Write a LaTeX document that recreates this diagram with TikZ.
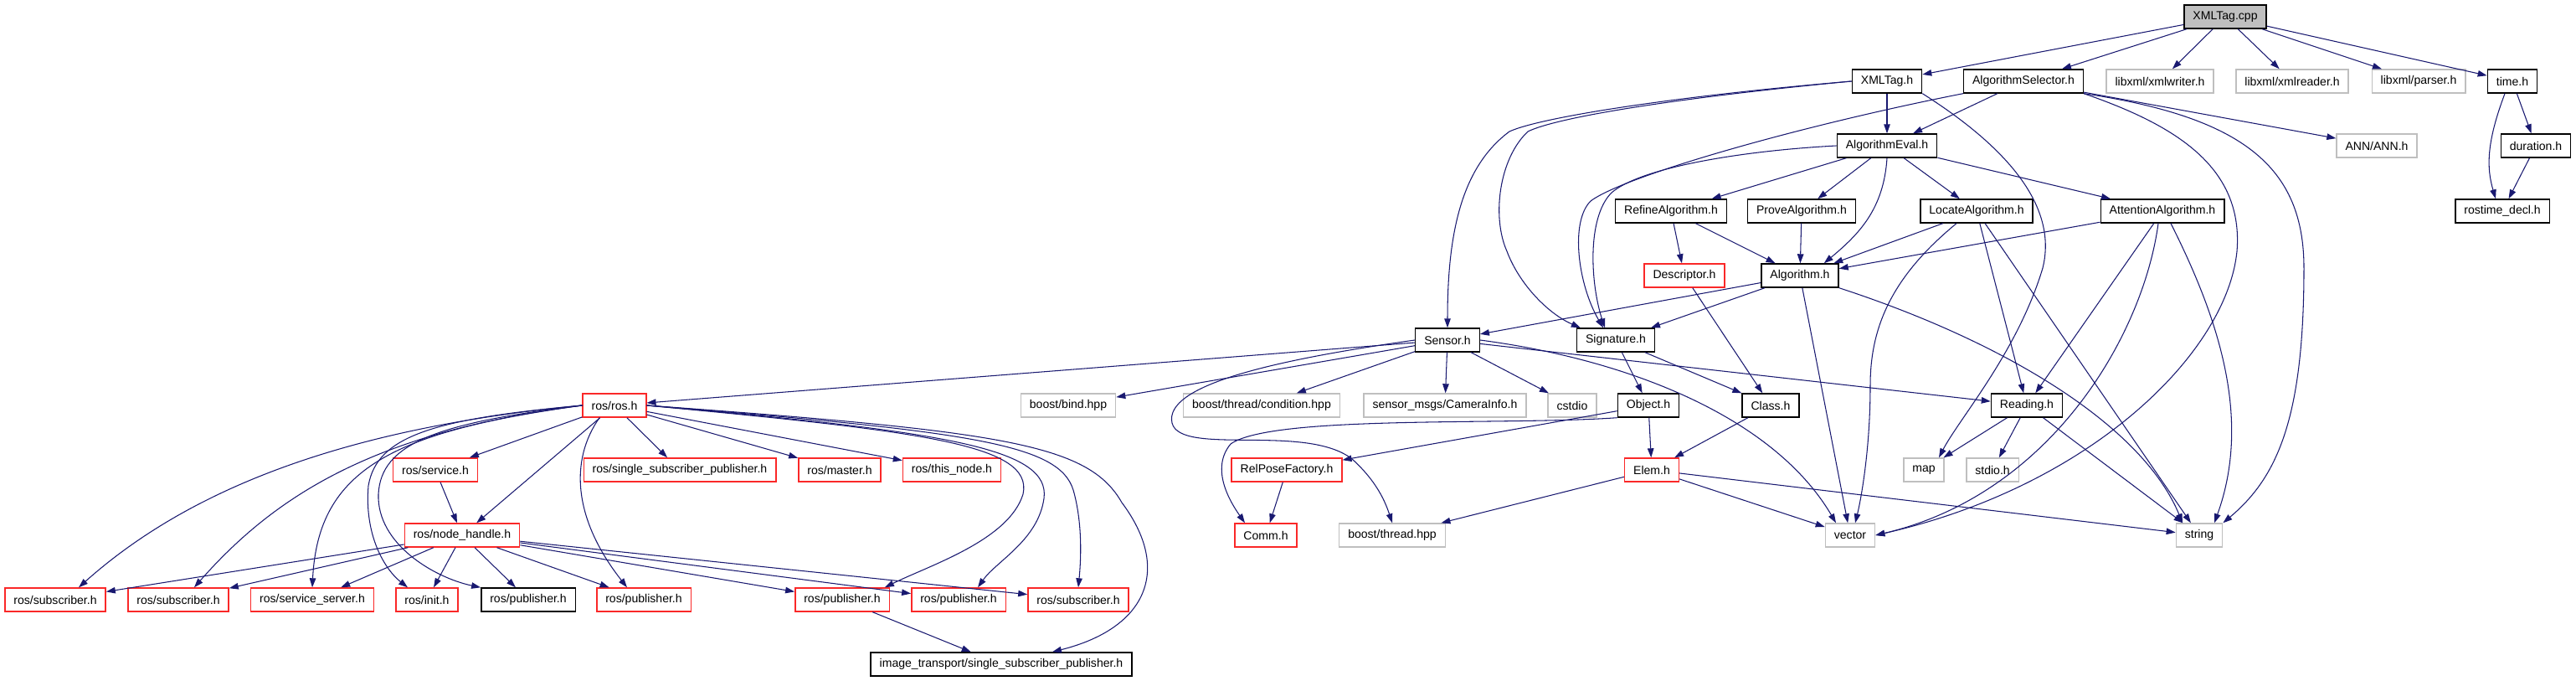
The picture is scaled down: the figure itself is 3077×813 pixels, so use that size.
\documentclass[tikz,border=0pt]{standalone}
\usepackage{fontspec}
\newfontfamily\graphfont{Liberation Sans}
\usepackage{tikz}
\usetikzlibrary{arrows.meta}
\definecolor{edgeblue}{RGB}{25,25,112}
\definecolor{cutred}{RGB}{250,40,40}
\definecolor{sysgray}{RGB}{191,191,191}

\begin{document}
\begin{tikzpicture}[x=0.02cm, y=-0.02cm,
    incnode/.style={draw=black, line width=0.8pt, fill=white, font=\graphfont\fontsize{8pt}{9.6pt}\selectfont,
      minimum height=0.56cm, inner xsep=0.21cm, inner ysep=0pt},
    rootnode/.style={incnode, fill=sysgray},
    sysnode/.style={incnode, draw=sysgray},
    cutnode/.style={incnode, draw=cutred},
    incedge/.style={draw=edgeblue, line width=0.6pt, -{Triangle[length=0.22cm, width=0.15cm]}}]
    \useasboundingbox (0,0) rectangle (3077,813);

    % The file and its direct includes
    \node[rootnode] (root) at (2658,20) {XMLTag.cpp};
    \node[incnode] (xmltagh) at (2254,97) {XMLTag.h};
    \node[incnode] (algsel) at (2417,97) {AlgorithmSelector.h};
    \node[sysnode] (xmlwriter) at (2580,97) {libxml/xmlwriter.h};
    \node[sysnode] (xmlreader) at (2738,97) {libxml/xmlreader.h};
    \node[sysnode] (xmlparser) at (2889,97) {libxml/parser.h};
    \node[incnode] (timeh) at (3001,97) {time.h};

    % Algorithm headers
    \node[incnode] (algeval) at (2254,174) {AlgorithmEval.h};
    \node[sysnode] (annh) at (2839,174) {ANN/ANN.h};
    \node[incnode] (durationh) at (3029,174) {duration.h};
    \node[incnode] (refine) at (1996,252) {RefineAlgorithm.h};
    \node[incnode] (prove) at (2152,252) {ProveAlgorithm.h};
    \node[incnode] (locate) at (2361,252) {LocateAlgorithm.h};
    \node[incnode] (attention) at (2583,252) {AttentionAlgorithm.h};
    \node[incnode] (rostimedecl) at (2989,252) {rostime\_decl.h};
    \node[cutnode] (descriptor) at (2012,329) {Descriptor.h};
    \node[incnode] (algorithm) at (2150,329) {Algorithm.h};
    \node[incnode] (sensor) at (1729,406) {Sensor.h};
    \node[incnode] (signature) at (1930,406) {Signature.h};

    % Middle rows
    \node[cutnode] (rosros) at (734,484) {ros/ros.h};
    \node[sysnode] (bind) at (1276,484) {boost/bind.hpp};
    \node[sysnode] (condition) at (1507,484) {boost/thread/condition.hpp};
    \node[sysnode] (camerainfo) at (1726,484) {sensor\_msgs/CameraInfo.h};
    \node[sysnode] (cstdio) at (1878,484) {cstdio};
    \node[incnode] (object) at (1969,484) {Object.h};
    \node[incnode] (classh) at (2115,484) {Class.h};
    \node[incnode] (reading) at (2421,484) {Reading.h};
    \node[cutnode] (service) at (520,561) {ros/service.h};
    \node[cutnode] (singlesub) at (812,561) {ros/single\_subscriber\_publisher.h};
    \node[cutnode] (master) at (1003,561) {ros/master.h};
    \node[cutnode] (thisnode) at (1137,561) {ros/this\_node.h};
    \node[cutnode] (relpose) at (1537,561) {RelPoseFactory.h};
    \node[cutnode] (elem) at (1973,561) {Elem.h};
    \node[sysnode] (map) at (2298,561) {map};
    \node[sysnode] (stdioh) at (2380,561) {stdio.h};
    \node[cutnode] (nodehandle) at (552,639) {ros/node\_handle.h};
    \node[cutnode] (comm) at (1512,639) {Comm.h};
    \node[sysnode] (bthread) at (1663,639) {boost/thread.hpp};
    \node[sysnode] (vector) at (2210,639) {vector};
    \node[sysnode] (string) at (2627,639) {string};

    % Bottom rows (ros)
    \node[cutnode] (sub1) at (66,716) {ros/subscriber.h};
    \node[cutnode] (sub2) at (213,716) {ros/subscriber.h};
    \node[cutnode] (srvserver) at (373,716) {ros/service\_server.h};
    \node[cutnode] (init) at (510,716) {ros/init.h};
    \node[incnode] (pub0) at (631,716) {ros/publisher.h};
    \node[cutnode] (pub1) at (769,716) {ros/publisher.h};
    \node[cutnode] (pub2) at (1006,716) {ros/publisher.h};
    \node[cutnode] (pub3) at (1145,716) {ros/publisher.h};
    \node[cutnode] (sub3) at (1288,716) {ros/subscriber.h};
    \node[incnode] (imgtransport) at (1196,793) {image\_transport/single\_subscriber\_publisher.h};

    % XMLTag.cpp
    \draw[incedge] (root) -- (xmltagh);
    \draw[incedge] (root) -- (algsel);
    \draw[incedge] (root) -- (xmlwriter);
    \draw[incedge] (root) -- (xmlreader);
    \draw[incedge] (root) -- (xmlparser);
    \draw[incedge] (root) -- (timeh);

    % XMLTag.h
    \draw[incedge] (xmltagh) -- (algeval);
    \draw[incedge] (xmltagh.west) .. controls (2000,115) and (1840,140) .. (1803,157)
      .. controls (1745,200) and (1729,280) .. (sensor.north);
    \draw[incedge] (xmltagh.west) .. controls (2000,117) and (1860,140) .. (1825,157)
      .. controls (1790,190) and (1782,260) .. (1800,300)
      .. controls (1815,340) and (1850,375) .. ([xshift=0.1cm]signature.north west);
    \draw[incedge] (xmltagh.south east) .. controls (2420,190) and (2455,260) .. (2440,320)
      .. controls (2410,420) and (2340,500) .. ([xshift=0.36cm]map.north);

    % AlgorithmSelector.h
    \draw[incedge] (algsel) -- (algeval);
    \draw[incedge] (algsel) -- (annh);
    \draw[incedge] (algsel.south west) .. controls (2150,150) and (1940,210) .. (1900,240)
      .. controls (1875,265) and (1885,340) .. ([xshift=-0.3cm]signature.north);
    \draw[incedge] (algsel.south east) .. controls (2600,150) and (2680,200) .. (2672,300)
      .. controls (2660,420) and (2500,580) .. (vector.east);
    \draw[incedge] (algsel.south east) .. controls (2680,140) and (2752,200) .. (2752,320)
      .. controls (2752,500) and (2720,570) .. (string.north east);

    % AlgorithmEval.h
    \draw[incedge] (algeval) -- (refine);
    \draw[incedge] (algeval) -- (prove);
    \draw[incedge] (algeval) -- (locate);
    \draw[incedge] (algeval) -- (attention);
    \draw[incedge] (algeval.south) .. controls (2250,250) and (2220,280) .. ([xshift=-0.36cm]algorithm.north east);
    \draw[incedge] (algeval.west) .. controls (2080,180) and (1960,200) .. (1925,230)
      .. controls (1895,260) and (1900,340) .. ([xshift=-0.26cm]signature.north);

    % Refine, Prove, Locate, Attention
    \draw[incedge] (refine) -- (descriptor);
    \draw[incedge] (refine) -- (algorithm);
    \draw[incedge] (prove) -- (algorithm);
    \draw[incedge] (locate) -- (algorithm);
    \draw[incedge] (locate) -- (reading);
    \draw[incedge] (locate) -- (string);
    \draw[incedge] ([xshift=-0.48cm]locate.south) .. controls (2260,330) and (2234,390) .. (2234,460)
      .. controls (2234,540) and (2222,600) .. ([xshift=0.12cm]vector.north);
    \draw[incedge] (attention) -- (algorithm);
    \draw[incedge] (attention) -- (reading);
    \draw[incedge] ([xshift=-0.1cm]attention.south) .. controls (2560,400) and (2450,590) .. (vector.east);
    \draw[incedge] ([xshift=0.2cm]attention.south) .. controls (2650,380) and (2690,500) .. ([xshift=0.36cm]string.north);
    \draw[incedge] (descriptor) -- (classh);

    % Algorithm.h
    \draw[incedge] (algorithm) -- (sensor);
    \draw[incedge] (algorithm) -- (signature);
    \draw[incedge] (algorithm) -- (vector);
    \draw[incedge] (algorithm.south east) .. controls (2400,410) and (2560,510) .. ([xshift=-0.4cm]string.north);

    % Sensor.h
    \draw[incedge] (sensor) -- (rosros);
    \draw[incedge] (sensor) -- (bind);
    \draw[incedge] (sensor) -- (condition);
    \draw[incedge] (sensor) -- (camerainfo);
    \draw[incedge] (sensor) -- (cstdio);
    \draw[incedge] (sensor) -- (reading);
    \draw[incedge] (sensor.east) .. controls (1950,430) and (2120,500) .. ([xshift=-0.34cm]vector.north);
    \draw[incedge] (sensor.west) .. controls (1520,430) and (1390,460) .. (1400,505)
      .. controls (1410,545) and (1560,505) .. (1615,548)
      .. controls (1645,575) and (1655,600) .. (bthread.north);

    % Signature.h, Object.h, Class.h, Elem.h
    \draw[incedge] (signature) -- (object);
    \draw[incedge] (signature) -- (classh);
    \draw[incedge] (object) -- (elem);
    \draw[incedge] (object) -- (relpose);
    \draw[incedge] (object.south west) .. controls (1800,508) and (1520,495) .. (1470,530)
      .. controls (1445,560) and (1470,600) .. ([xshift=-0.5cm]comm.north);
    \draw[incedge] (classh) -- (elem);
    \draw[incedge] (relpose) -- (comm);
    \draw[incedge] (elem) -- (bthread);
    \draw[incedge] (elem) -- (vector);
    \draw[incedge] (elem) -- (string);

    % Reading.h
    \draw[incedge] (reading) -- (map);
    \draw[incedge] (reading) -- (stdioh);
    \draw[incedge] (reading) -- (string);

    % time.h
    \draw[incedge] (timeh) -- (durationh);
    \draw[incedge] ([xshift=-0.18cm]timeh.south) .. controls (2970,170) and (2970,200) .. ([xshift=-0.16cm]rostimedecl.north);
    \draw[incedge] (durationh) -- (rostimedecl);

    % ros/ros.h
    \draw[incedge] (rosros) -- (service);
    \draw[incedge] (rosros) -- (nodehandle);
    \draw[incedge] (rosros) -- (singlesub);
    \draw[incedge] (rosros) -- (master);
    \draw[incedge] (rosros) -- (thisnode);
    \draw[incedge] (rosros.west) .. controls (420,510) and (230,580) .. ([xshift=0.56cm]sub1.north);
    \draw[incedge] (rosros.west) .. controls (450,515) and (330,590) .. ([xshift=0.38cm]sub2.north);
    \draw[incedge] (rosros.west) .. controls (470,515) and (380,560) .. (srvserver.north);
    \draw[incedge] (rosros.west) .. controls (520,500) and (450,520) .. (440,580)
      .. controls (435,640) and (460,680) .. ([xshift=-0.46cm]init.north);
    \draw[incedge] (rosros.west) .. controls (520,505) and (455,530) .. (452,590)
      .. controls (450,650) and (520,690) .. (pub0.north west);
    \draw[incedge] ([xshift=-0.36cm]rosros.south) .. controls (680,550) and (685,620) .. ([xshift=-0.4cm]pub1.north);
    \draw[incedge] (rosros.east) .. controls (1100,515) and (1235,530) .. (1222,590)
      .. controls (1205,645) and (1110,675) .. ([xshift=-0.12cm]pub2.north east);
    \draw[incedge] (rosros.east) .. controls (1130,515) and (1255,535) .. (1247,595)
      .. controls (1240,645) and (1190,670) .. ([xshift=0.46cm]pub3.north);
    \draw[incedge] (rosros.east) .. controls (1160,515) and (1265,530) .. (1282,585)
      .. controls (1292,620) and (1292,660) .. (sub3.north);
    \draw[incedge] (rosros.east) .. controls (1200,515) and (1300,530) .. (1340,600)
      .. controls (1400,680) and (1370,750) .. ([xshift=1.22cm]imgtransport.north);

    % ros/service.h, ros/node_handle.h
    \draw[incedge] (service) -- (nodehandle);
    \draw[incedge] (nodehandle) -- (sub1);
    \draw[incedge] (nodehandle) -- (sub2);
    \draw[incedge] (nodehandle) -- (srvserver);
    \draw[incedge] (nodehandle) -- (init);
    \draw[incedge] (nodehandle) -- (pub0);
    \draw[incedge] (nodehandle) -- (pub1);
    \draw[incedge] (nodehandle) -- (pub2);
    \draw[incedge] (nodehandle) -- (pub3);
    \draw[incedge] (nodehandle) -- (sub3);
    \draw[incedge] (pub2) -- (imgtransport);
\end{tikzpicture}
\end{document}
